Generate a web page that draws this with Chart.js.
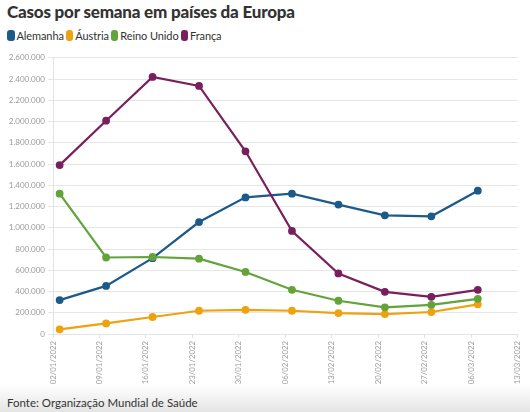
<!DOCTYPE html>
<html>
<head>
<meta charset="utf-8">
<script src="https://cdn.jsdelivr.net/npm/chart.js@4"></script>
<style>
  html, body { margin:0; padding:0; background:#fff; }
  body { width:530px; height:412px; position:relative; overflow:hidden; font-family: Lato, "Open Sans", sans-serif; }
  #title { position:absolute; left:7px; top:1px; font-size:17px; font-weight:900; color:#333; letter-spacing:-0.2px; white-space:nowrap; }
  #legend { position:absolute; left:7px; top:29px; font-size:11px; color:#333; white-space:nowrap; display:flex; letter-spacing:-0.1px; }
  .item { display:flex; align-items:center; margin-right:2px; }
  .sw { width:7.5px; height:11px; border-radius:3px; margin-right:2px; display:inline-block; }
  #wrap { position:absolute; left:0; top:50px; width:530px; height:340px; }
  #footer { position:absolute; left:0; top:385px; width:530px; height:27px; background:linear-gradient(#fff, #e4e4e4); }
  #footer span { position:absolute; left:7px; top:11px; font-size:11.5px; color:#333; }
</style>
</head>
<body>
<div id="title">Casos por semana em países da Europa</div>
<div id="legend"></div>
<div id="wrap"><canvas id="c"></canvas></div>
<div id="footer"><span>Fonte: Organização Mundial de Saúde</span></div>
<script>
const seriesNames = ['Alemanha', 'Áustria', 'Reino Unido', 'França'];
const seriesColors = ['#1c5a8a', '#eea20f', '#62a33a', '#7a1f5d'];
const dates = ['2022-01-03','2022-01-10','2022-01-17','2022-01-24','2022-01-31','2022-02-07','2022-02-14','2022-02-21','2022-02-28','2022-03-07'];
const alemanha = [319000, 453000, 714000, 1054000, 1286000, 1321000, 1218000, 1117000, 1108000, 1349000];
const austria = [44000, 100000, 160000, 219000, 228000, 219000, 197000, 188000, 207000, 279000];
const reinoUnido = [1321000, 720000, 725000, 709000, 584000, 416000, 313000, 251000, 275000, 331000];
const franca = [1590000, 2008000, 2420000, 2335000, 1720000, 970000, 570000, 397000, 350000, 416000];
const xTickLabels = ['02/01/2022','09/01/2022','16/01/2022','23/01/2022','30/01/2022','06/02/2022','13/02/2022','20/02/2022','27/02/2022','06/03/2022','13/03/2022'];
const yTickMax = 2600000, yTickStep = 200000;

const start = Date.UTC(2022,0,2);
const dayOf = s => { const p = s.split('-').map(Number); return (Date.UTC(p[0],p[1]-1,p[2]) - start)/86400000; };
const xs = dates.map(dayOf);
const allSeries = [alemanha, austria, reinoUnido, franca];

const legend = document.getElementById('legend');
seriesNames.forEach((n,i)=>{
  const it = document.createElement('div'); it.className='item';
  it.innerHTML = '<span class="sw" style="background:'+seriesColors[i]+'"></span>'+n;
  legend.appendChild(it);
});

const fmt = v => String(Math.round(v)).replace(/\B(?=(\d{3})+(?!\d))/g, '.');

new Chart(document.getElementById('c'), {
  type: 'line',
  data: {
    datasets: allSeries.map((vals,i)=>({
      label: seriesNames[i],
      data: vals.map((v,j)=>({x: xs[j], y: v})),
      borderColor: seriesColors[i],
      backgroundColor: seriesColors[i],
      borderWidth: 2.2,
      pointRadius: 2.8,
      pointHoverRadius: 2.8,
      tension: 0
    })).reverse()
  },
  options: {
    responsive: true,
    maintainAspectRatio: false,
    animation: false,
    layout: { padding: { top: 7, right: 10, left: 0, bottom: 0 } },
    plugins: { legend: { display:false }, tooltip: { enabled:false } },
    scales: {
      x: {
        type: 'linear',
        min: 0, max: 70,
        afterBuildTicks: ax => { ax.ticks = xTickLabels.map((l,i)=>({value: i*7})); },
        afterFit: ax => { ax.height = 56; },
        ticks: {
          callback: (v, i) => xTickLabels[i],
          minRotation: 90, maxRotation: 90,
          autoSkip: false,
          color: '#9a9a9a',
          font: { family: 'Lato', size: 7.8 },
          padding: 3
        },
        grid: { drawOnChartArea: false, drawTicks: true, tickLength: 4, color: '#e3e3e3' },
        border: { color: '#e3e3e3' }
      },
      y: {
        min: 0, max: yTickMax,
        afterFit: ax => { ax.width = 53; },
        ticks: {
          stepSize: yTickStep,
          callback: v => fmt(v),
          color: '#9a9a9a',
          font: { family: 'Lato', size: 8 },
          padding: 3
        },
        grid: { color: '#e6e6e6', tickLength: 5 },
        border: { color: '#e3e3e3' }
      }
    }
  }
});
</script>
</body>
</html>
